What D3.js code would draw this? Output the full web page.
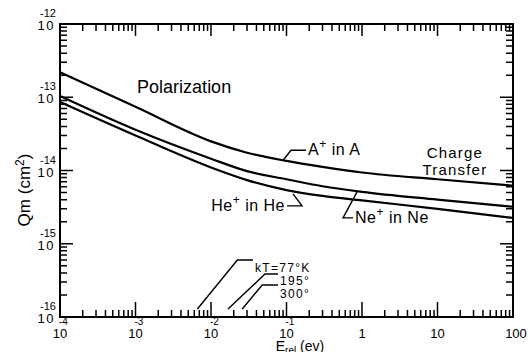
<!DOCTYPE html>
<html>
<head>
<meta charset="utf-8">
<script src="https://cdn.jsdelivr.net/npm/d3@7.9.0/dist/d3.min.js"></script>
<style>
  body { margin: 0; background: #fff; }
  svg { display: block; font-family: "Liberation Sans", Arial, sans-serif; }
</style>
</head>
<body>
<svg id="chart" width="528" height="352"></svg>
<script>
// Cross sections Qm (cm^2) vs relative energy (ev)
const energy = [1e-4, 1e-3, 1e-2, 0.03, 0.1, 0.3, 1, 10, 100];
const qArgon = [2.2e-13, 7.4e-14, 2.5e-14, 1.75e-14, 1.35e-14, 1.12e-14, 9.4e-15, 7.6e-15, 6.2e-15];
const qNeon = [1.04e-13, 3.6e-14, 1.45e-14, 9.8e-15, 7.6e-15, 6.1e-15, 5.1e-15, 4.0e-15, 3.2e-15];
const qHelium = [8.6e-14, 3.0e-14, 1.1e-14, 7.4e-15, 5.4e-15, 4.5e-15, 3.9e-15, 3.0e-15, 2.25e-15];

// axis decades and their labels
const xDecades = [1e-4, 1e-3, 1e-2, 1e-1, 1, 10, 100];
const xTickBase = ['10', '10', '10', '10', '1', '10', '100'];
const xTickExp = ['-4', '-3', '-2', '-1', '', '', ''];
const yDecades = [1e-16, 1e-15, 1e-14, 1e-13, 1e-12];
const yTickExp = ['-16', '-15', '-14', '-13', '-12'];

// kT markers for 77, 195, 300 K
const kTEnergy = [0.0066, 0.0168, 0.0259];
const kTLabels = ['kT=77°K', '195°', '300°'];

const svg = d3.select('#chart');
const pL = 60, pR = 513, pT = 24, pB = 317;

const x = d3.scaleLog().domain([1e-4, 100]).range([pL, pR]);
const y = d3.scaleLog().domain([1e-16, 1e-12]).range([pB, pT]);

// frame
svg.append('path')
  .attr('d', `M${pL},${pT}H${pR}V${pB}H${pL}Z`)
  .attr('fill', 'none').attr('stroke', '#000').attr('stroke-width', 2);

// minor ticks 2..9 in each decade
const minorOf = (decades) => decades.slice(0, -1)
  .flatMap(d => d3.range(2, 10).map(m => m * d));
const xMinor = minorOf(xDecades);
const yMinor = minorOf(yDecades);

const majorLen = 13, minorLen = 7;

// inward tick marks on one side, as one path built from the scale
function drawTicks(vals, side, len) {
  const horiz = side === 'bottom' || side === 'top';
  const base = { bottom: pB, top: pT, left: pL, right: pR }[side];
  const dir = (side === 'bottom' || side === 'right') ? -1 : 1;
  const p = d3.path();
  vals.forEach(d => {
    if (horiz) {
      p.moveTo(x(d), base);
      p.lineTo(x(d), base + dir * len);
    } else {
      p.moveTo(base, y(d));
      p.lineTo(base + dir * len, y(d));
    }
  });
  svg.append('path')
    .attr('d', p.toString())
    .attr('fill', 'none')
    .attr('stroke', '#000')
    .attr('stroke-width', 1.5);
}

drawTicks(xMinor, 'bottom', minorLen);
drawTicks(xDecades, 'bottom', majorLen + 2);
drawTicks(xMinor, 'top', minorLen);
drawTicks(xDecades, 'top', majorLen - 1);
drawTicks(yMinor, 'left', minorLen);
drawTicks(yDecades, 'left', majorLen);
drawTicks(yMinor, 'right', minorLen);
drawTicks(yDecades, 'right', majorLen);

// y tick labels: 10 with exponent above
yDecades.forEach((d, i) => {
  svg.append('text')
    .attr('x', pL - 5).attr('y', y(d) + 6)
    .attr('text-anchor', 'end').attr('font-size', 13)
    .attr('letter-spacing', 1.5)
    .text('10');
  svg.append('text')
    .attr('x', pL - 20).attr('y', y(d) - 7)
    .attr('font-size', 11)
    .text(yTickExp[i]);
});

// x tick labels
xDecades.forEach((d, i) => {
  const cx = x(d) + (i === xDecades.length - 1 ? 3 : 0);
  svg.append('text')
    .attr('x', cx).attr('y', 338)
    .attr('text-anchor', 'middle').attr('font-size', 13)
    .text(xTickBase[i]);
  if (xTickExp[i]) {
    svg.append('text')
      .attr('x', x(d) - 1).attr('y', 325)
      .attr('font-size', 10)
      .text(xTickExp[i]);
  }
});

// curves
const curveLine = d3.line()
  .x(d => x(d[0]))
  .y(d => y(d[1]))
  .curve(d3.curveMonotoneX);

[qArgon, qNeon, qHelium].forEach(q => {
  svg.append('path')
    .attr('d', curveLine(energy.map((e, i) => [e, q[i]])))
    .attr('fill', 'none')
    .attr('stroke', '#000')
    .attr('stroke-width', 2.2);
});

// labels with leaders, anchored at points on the curves
function leader(pts) {
  svg.append('path')
    .attr('d', d3.line()(pts))
    .attr('fill', 'none').attr('stroke', '#000').attr('stroke-width', 1.4);
}

function ionLabel(ax, ay, anchor, ion, gas) {
  const t = svg.append('text')
    .attr('x', ax).attr('y', ay)
    .attr('text-anchor', anchor).attr('font-size', 16)
    .attr('letter-spacing', 0.5);
  t.append('tspan').text(ion);
  t.append('tspan').attr('dy', -7).attr('font-size', 12).text('+');
  t.append('tspan').attr('dy', 7).text(' in ' + gas);
}

// A+ in A
{
  const px = x(0.09), py = y(1.38e-14);
  leader([[px, py], [px + 8, py - 10], [px + 23, py - 10]]);
  ionLabel(px + 25, py - 5, 'start', 'A', 'A');
}
// He+ in He
{
  const px = x(0.122), py = y(4.8e-15);
  leader([[px, py], [px + 9, py + 12], [px - 6, py + 12]]);
  ionLabel(px - 8, py + 17, 'end', 'He', 'He');
}
// Ne+ in Ne
{
  const px = x(0.86), py = y(5.1e-15);
  leader([[px, py], [px - 14, py + 26], [px - 4, py + 26]]);
  ionLabel(px - 2, py + 31, 'start', 'Ne', 'Ne');
}

// region texts
svg.append('text')
  .attr('x', x(1.05e-3)).attr('y', 93)
  .attr('font-size', 18)
  .text('Polarization');

svg.append('text')
  .attr('x', x(17)).attr('y', 158)
  .attr('text-anchor', 'middle').attr('font-size', 15)
  .attr('letter-spacing', 1.2)
  .text('Charge');
svg.append('text')
  .attr('x', x(17)).attr('y', 175)
  .attr('text-anchor', 'middle').attr('font-size', 15)
  .attr('letter-spacing', 1.2)
  .text('Transfer');

// kT markers
const kTElbow = [[40, -49], [37, -35], [20, -24]];
const kTText = [[255, 272], [280, 285], [280, 298]];
kTEnergy.forEach((e, i) => {
  const px = x(e), py = pB - 8;
  const ex = px + kTElbow[i][0], ey = py + kTElbow[i][1];
  leader([[px, py], [ex, ey], [kTText[i][0] - 2, ey]]);
  svg.append('text')
    .attr('x', kTText[i][0]).attr('y', kTText[i][1])
    .attr('font-size', 12)
    .attr('letter-spacing', 1.3)
    .text(kTLabels[i]);
});

// axis titles
const yt = svg.append('text')
  .attr('transform', 'translate(30,190) rotate(-90)')
  .attr('text-anchor', 'middle').attr('font-size', 17);
yt.append('tspan').text('Qm (cm');
yt.append('tspan').attr('dy', -6).attr('font-size', 12).text('2');
yt.append('tspan').attr('dy', 6).text(')');

const xt = svg.append('text')
  .attr('x', 300).attr('y', 351)
  .attr('text-anchor', 'middle').attr('font-size', 14);
xt.append('tspan').text('E');
xt.append('tspan').attr('dy', 3).attr('font-size', 10).text('rel');
xt.append('tspan').attr('dy', -3).text(' (ev)');
</script>
</body>
</html>
